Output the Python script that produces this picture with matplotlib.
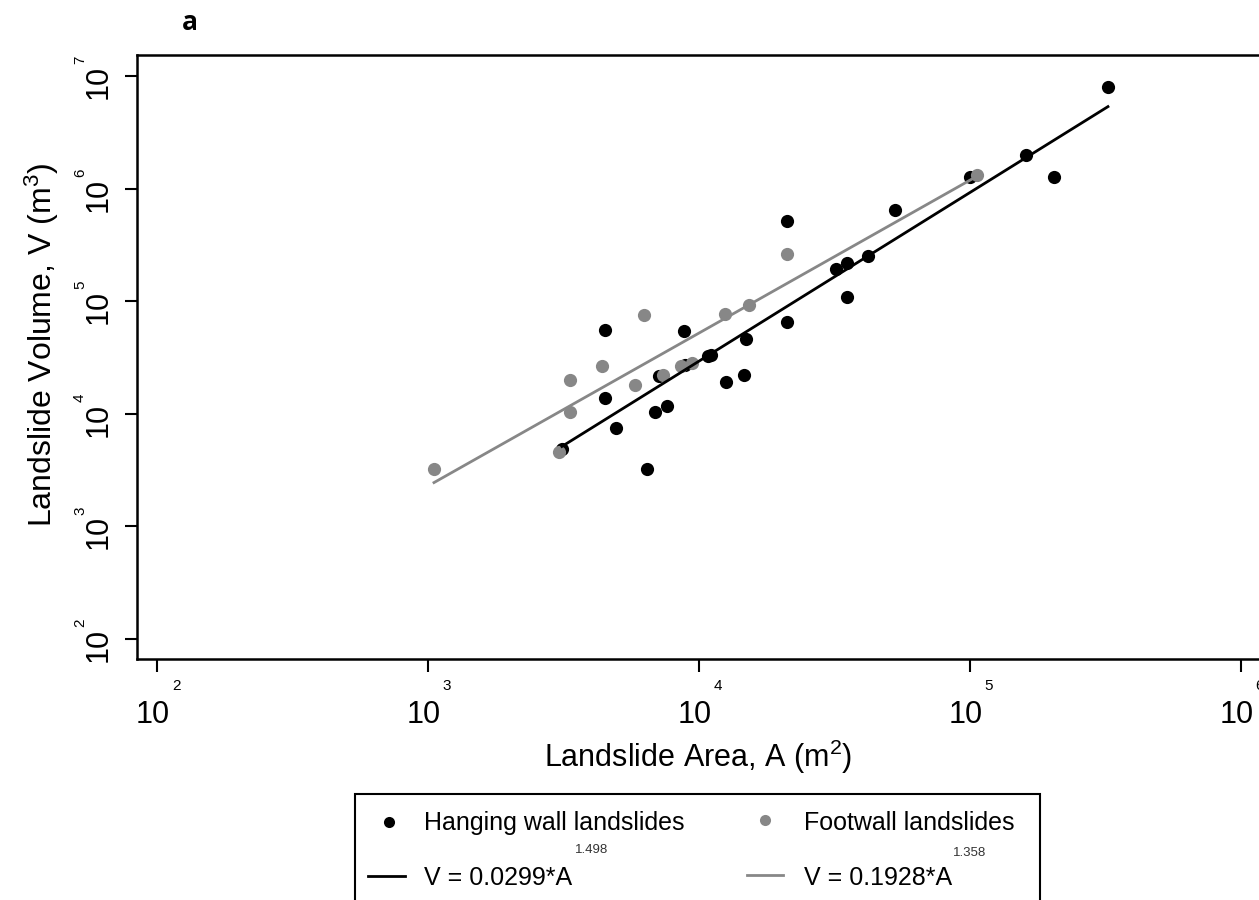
import matplotlib
matplotlib.use('Agg')
import matplotlib.pyplot as plt
import matplotlib.transforms as mtransforms
from matplotlib.lines import Line2D
from matplotlib.patches import Rectangle
import numpy as np

plt.rcParams['font.family'] = ['Liberation Sans', 'DejaVu Sans']
plt.rcParams['mathtext.fontset'] = 'custom'
plt.rcParams['mathtext.rm'] = 'Liberation Sans'
plt.rcParams['mathtext.it'] = 'Liberation Sans:italic'

# hanging wall landslides (area m2, volume m3)
hw_area = [3120, 4940, 6430, 4500, 4500, 6880, 7620, 7120, 8880, 8810,
           10800, 11070, 12590, 14660, 14900, 21130, 21130, 32050, 35160,
           35160, 42070, 52840, 100000, 161000, 204000, 323000]
hw_vol = [4860, 7480, 3240, 13800, 55500, 10400, 11700, 21700, 27100, 54400,
          32600, 33300, 19200, 22100, 46200, 515000, 65300, 193000, 218000,
          109000, 252000, 646000, 1.27e6, 1.99e6, 1.27e6, 7.98e6]

# footwall landslides
fw_area = [1052, 3040, 3340, 3340, 4390, 5810, 6270, 7360, 8590, 9420,
           12470, 15300, 21130, 106000]
fw_vol = [3240, 4580, 10400, 19950, 26600, 18000, 75300, 22100, 26600, 28300,
          76900, 92500, 262000, 1.32e6]

# power-law fits V = c * A^b
hw_fit = (0.0299, 1.498)
fw_fit = (0.1928, 1.358)

x_exps = [2, 3, 4, 5, 6]
y_exps = [2, 3, 4, 5, 6, 7]

GRAY = '#878787'
W, H = 1259, 900

fig = plt.figure(figsize=(W / 100, H / 100), dpi=100)
ax = fig.add_axes([137 / W, 241 / H, 1124 / W, 604 / H])
ax.set_xscale('log')
ax.set_yscale('log')
ax.set_xlim(10 ** 1.926, 10 ** 6.074)
ax.set_ylim(10 ** 1.822, 10 ** 7.187)

ax.plot(hw_area, hw_vol, 'o', color='black', ms=9.5, mew=0)
ax.plot(fw_area, fw_vol, 'o', color=GRAY, ms=9.5, mew=0)

a = np.array([min(hw_area), max(hw_area)])
ax.plot(a, hw_fit[0] * a ** hw_fit[1], color='black', lw=2)
a = np.array([min(fw_area), max(fw_area)])
ax.plot(a, fw_fit[0] * a ** fw_fit[1], color=GRAY, lw=2)

for s in ax.spines.values():
    s.set_linewidth(1.8)

ax.set_xticks([10.0 ** e for e in x_exps])
ax.set_yticks([10.0 ** e for e in y_exps])
ax.minorticks_off()
ax.tick_params(direction='out', length=9, width=1.5, labelbottom=False, labelleft=False)

# R style tick labels: "10" with a raised exponent
tx = ax.get_xaxis_transform()
for e in x_exps:
    ax.text(10.0 ** e, -0.0927, '10', fontsize=22, ha='center', va='center', clip_on=False,
            transform=mtransforms.offset_copy(tx, fig, x=-4, y=0, units='dots'))
    ax.text(10.0 ** e, -0.0447, str(e), fontsize=11, ha='center', va='center', clip_on=False,
            transform=mtransforms.offset_copy(tx, fig, x=19, y=0, units='dots'))
ty = ax.get_yaxis_transform()
for e in y_exps:
    ax.text(-0.0338, 10.0 ** e, '10', fontsize=22, ha='center', va='center', rotation=90,
            clip_on=False, transform=mtransforms.offset_copy(ty, fig, x=0, y=-6, units='dots'))
    ax.text(-0.0507, 10.0 ** e, str(e), fontsize=11, ha='center', va='center', rotation=90,
            clip_on=False, transform=mtransforms.offset_copy(ty, fig, x=0, y=16, units='dots'))

def fx(px):
    return px / W

def fy(py):
    return 1 - py / H

fig.text(fx(698), fy(757), 'Landslide Area, A (m$^{2}$)', fontsize=22, ha='center', va='center')
fig.text(fx(42), fy(345), 'Landslide Volume, V (m$^{3}$)', fontsize=23, ha='center', va='center',
         rotation=90)
fig.text(fx(190), fy(22), 'a', fontsize=19, fontweight='bold', family='Open Sans',
         ha='center', va='center')

# legend box below the plot
fig.add_artist(Rectangle((fx(355), -0.05), fx(1040) - fx(355), fy(794) + 0.05,
                         transform=fig.transFigure, fill=False, lw=1.5, ec='black'))
fig.add_artist(Line2D([fx(389)], [fy(822)], marker='o', color='black', ms=8, mew=0,
                      transform=fig.transFigure))
fig.add_artist(Line2D([fx(765)], [fy(820)], marker='o', color=GRAY, ms=8, mew=0,
                      transform=fig.transFigure))
fig.add_artist(Line2D([fx(368), fx(405)], [fy(876), fy(876)], color='black', lw=2,
                      transform=fig.transFigure))
fig.add_artist(Line2D([fx(747), fx(783)], [fy(875), fy(875)], color=GRAY, lw=2,
                      transform=fig.transFigure))
fig.text(fx(424), fy(830), 'Hanging wall landslides', fontsize=18, va='baseline')
fig.text(fx(804), fy(830), 'Footwall landslides', fontsize=18, va='baseline')
fig.text(fx(424), fy(885), 'V = 0.0299*A', fontsize=18, va='baseline')
fig.text(fx(804), fy(885), 'V = 0.1928*A', fontsize=18, va='baseline')
fig.text(fx(592), fy(850), '1.498', fontsize=9.5, ha='center', va='center', color='#333333')
fig.text(fx(970), fy(853), '1.358', fontsize=9.5, ha='center', va='center', color='#333333')

fig.savefig('out.png', dpi=100)
